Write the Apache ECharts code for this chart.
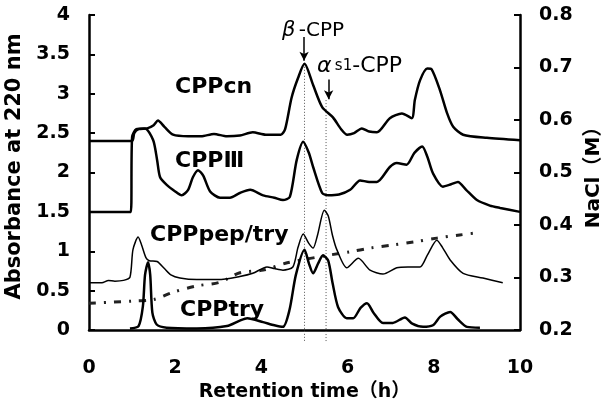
<!DOCTYPE html>
<html><head><meta charset="utf-8">
<script src="https://cdn.jsdelivr.net/npm/echarts@6/dist/echarts.min.js"></script>
<style>html,body{margin:0;padding:0;background:#fff}#c{width:601px;height:409px}</style>
</head><body><div id="c"></div>
<script>
// ---- data ----
const xTicks = [0, 2, 4, 6, 8, 10];
const cnX = [0,0.5,1.0,1.05,1.15,1.35,1.5,1.6,1.75,1.95,2.3,2.6,2.9,3.2,3.5,3.8,4.1,4.45,4.55,4.7,4.85,5.0,5.2,5.41,5.66,5.85,5.99,6.15,6.33,6.5,6.68,6.98,7.26,7.49,7.56,7.68,7.85,7.95,8.14,8.31,8.45,8.68,9.23,10.0];
const cnY = [2.40,2.40,2.40,2.50,2.55,2.56,2.60,2.66,2.58,2.48,2.46,2.46,2.49,2.46,2.47,2.51,2.48,2.48,2.55,2.95,3.20,3.38,3.11,2.83,2.70,2.55,2.48,2.50,2.56,2.52,2.51,2.69,2.75,2.69,2.92,3.17,3.32,3.31,3.05,2.75,2.58,2.48,2.44,2.41];
const c3X = [0,0.5,0.97,1.0,1.1,1.3,1.49,1.58,1.65,1.81,2.0,2.15,2.3,2.41,2.53,2.65,2.81,3.04,3.27,3.5,3.74,4.04,4.3,4.5,4.66,4.82,4.97,5.1,5.2,5.41,5.55,5.8,6.06,6.29,6.5,6.68,6.98,7.14,7.37,7.55,7.73,7.85,7.98,8.21,8.4,8.56,8.75,9.0,9.3,9.54,10.0];
const c3Y = [1.50,1.50,1.50,2.45,2.55,2.56,2.41,2.16,1.94,1.84,1.76,1.71,1.78,1.94,2.03,1.96,1.76,1.68,1.68,1.74,1.78,1.71,1.68,1.65,1.69,2.16,2.39,2.25,2.07,1.74,1.71,1.72,1.78,1.90,1.88,1.88,2.07,2.12,2.10,2.25,2.33,2.20,1.99,1.82,1.85,1.88,1.78,1.65,1.58,1.55,1.50];
const ptX = [0,0.3,0.45,0.6,0.8,0.95,1.02,1.14,1.22,1.32,1.4,1.58,1.75,1.9,2.11,2.5,3.0,3.5,3.8,4.13,4.3,4.5,4.73,4.85,4.97,5.1,5.2,5.3,5.46,5.55,5.65,5.75,5.98,6.25,6.52,6.82,7.14,7.4,7.68,7.85,8.07,8.2,8.38,8.68,9.14,9.6];
const ptY = [0.60,0.60,0.63,0.62,0.63,0.67,1.02,1.18,1.08,0.92,0.88,0.87,0.78,0.70,0.66,0.64,0.64,0.68,0.72,0.80,0.78,0.76,0.80,1.05,1.22,1.10,1.04,1.20,1.52,1.45,1.20,1.02,0.79,0.91,0.76,0.71,0.79,0.80,0.80,0.95,1.14,1.05,0.89,0.72,0.66,0.60];
const tX = [0.95,1.15,1.25,1.3,1.37,1.42,1.47,1.57,1.8,2.5,3.2,3.5,3.67,4.04,4.3,4.5,4.65,4.8,5.0,5.1,5.2,5.32,5.43,5.55,5.65,5.78,5.98,6.13,6.3,6.45,6.6,6.82,7.05,7.33,7.5,7.75,7.98,8.15,8.38,8.55,8.77,9.07];
const tY = [0.02,0.05,0.30,0.70,0.86,0.70,0.22,0.07,0.03,0.02,0.05,0.12,0.15,0.10,0.06,0.04,0.25,0.70,1.02,0.85,0.72,0.85,0.95,0.88,0.60,0.29,0.15,0.15,0.28,0.34,0.22,0.09,0.09,0.16,0.08,0.04,0.06,0.17,0.23,0.14,0.04,0.03];
const naX = [0,1.0,1.5,1.95,2.5,3.04,3.5,4.04,4.6,5.6,6.06,6.52,7.05,7.56,8.07,8.6,9.0];
const naY = [0.251,0.255,0.258,0.272,0.284,0.291,0.309,0.314,0.328,0.343,0.349,0.356,0.362,0.368,0.375,0.381,0.385];
// vertical guide lines: x position, top value, bottom value (below axis)
const guideX = [5.0, 5.5];
const guideTop = [3.38, 2.92];
const guideBottom = -0.15;
const arrowX = [4.99, 5.56];
const arrowFrom = [3.72, 3.18];
const arrowTo = [3.42, 2.93];

const zip = (a,b) => a.map((v,i)=>[v,b[i]]);
const F = "'DejaVu Sans','Noto Sans CJK JP',sans-serif";
const chart = echarts.init(document.getElementById('c'), null, {renderer:'canvas'});
const lineS = (data, w) => ({type:'line', data, symbol:'none', smooth:0.25, lineStyle:{color:'#000', width:w}, z:3, animation:false});

const guideSeries = guideX.map((x,i) => ({type:'line', data:[[x, guideTop[i]],[x, guideBottom]], symbol:'none', clip:false, silent:true,
  lineStyle:{color:'#555', width:1, type:[1,2]}, z:1}));
const arrData = arrowX.map((x,i) => [{coord:[x, arrowFrom[i]]}, {coord:[x, arrowTo[i]]}]);

chart.setOption({
  animation:false,
  grid:{left:89, right:81, top:15, bottom:79, containLabel:false, outerBoundsMode:'none'},
  xAxis:{type:'value', min:0, max:10, interval:2,
    axisLine:{show:true, onZero:false, lineStyle:{color:'#000', width:2.5}},
    axisTick:{show:false}, splitLine:{show:false},
    axisLabel:{margin:29, fontSize:19, fontWeight:'bold', color:'#000', fontFamily:F},
    name:'Retention time（h）', nameLocation:'middle', nameGap:49,
    nameTextStyle:{fontSize:19, fontWeight:'bold', color:'#000', fontFamily:F}},
  yAxis:[
    {type:'value', min:0, max:4, interval:0.5,
      axisLine:{show:true, lineStyle:{color:'#000', width:2.5}},
      axisTick:{show:true, inside:true, length:6, lineStyle:{color:'#000', width:2}},
      splitLine:{show:false},
      axisLabel:{margin:19, fontSize:19, fontWeight:'bold', color:'#000', fontFamily:F},
      name:'Absorbance at 220 nm', nameLocation:'middle', nameGap:64, nameRotate:90,
      nameTextStyle:{fontSize:21, fontWeight:'bold', color:'#000', fontFamily:F, padding:[0,0,0,12]}},
    {type:'value', position:'right', min:0.2, max:0.8, interval:0.1,
      axisLine:{show:true, lineStyle:{color:'#000', width:2.5}},
      axisTick:{show:true, inside:true, length:6, lineStyle:{color:'#000', width:2}},
      splitLine:{show:false},
      axisLabel:{margin:19, fontSize:19, fontWeight:'bold', color:'#000', fontFamily:F, formatter:v=>v.toFixed(1)},
      name:'NaCl（M）', nameLocation:'middle', nameGap:62, nameRotate:90,
      nameTextStyle:{fontSize:20, fontWeight:'bold', color:'#000', fontFamily:F}}
  ],
  series:[
    Object.assign(lineS(zip(cnX,cnY), 2.5), {name:'CPPcn'}),
    Object.assign(lineS(zip(c3X,c3Y), 2.5), {name:'CPPIII',
      markLine:{silent:true, symbol:['none','arrow'], symbolSize:[7,9], label:{show:false}, animation:false,
        lineStyle:{type:'solid', color:'#000', width:1.5}, data:arrData}}),
    lineS(zip(ptX,ptY), 1.5),
    lineS(zip(tX,tY), 2.5),
    {type:'line', yAxisIndex:1, data:zip(naX,naY), symbol:'none', smooth:0.3,
      lineStyle:{color:'#222', width:3, type:[7,8,2,8]}, z:2},
    ...guideSeries
  ],
  graphic:[
    {type:'text', left:282, top:20, style:{rich:{g:{fontSize:21, fontStyle:'italic', fontFamily:F}, t:{fontSize:20, fontFamily:F}}, text:'{g|β} {t|-CPP}', fill:'#000'}},
    {type:'text', left:317, top:55, style:{rich:{g:{fontSize:22, fontStyle:'italic', fontFamily:F}, s:{fontSize:15, fontFamily:F}, t:{fontSize:22, fontFamily:F}}, text:'{g|α} {s|s1}{t|-CPP}', fill:'#000'}},
    {type:'text', left:175, top:76, style:{text:'CPPcn', font:'bold 22px '+F, fill:'#000'}},
    {type:'text', left:175, top:150, style:{text:'CPPⅢ', font:'bold 22px '+F, fill:'#000'}},
    {type:'text', left:150, top:224, style:{text:'CPPpep/try', font:'bold 22px '+F, fill:'#000'}},
    {type:'text', left:180, top:299, style:{text:'CPPtry', font:'bold 22px '+F, fill:'#000'}}
  ]
});
</script></body></html>
